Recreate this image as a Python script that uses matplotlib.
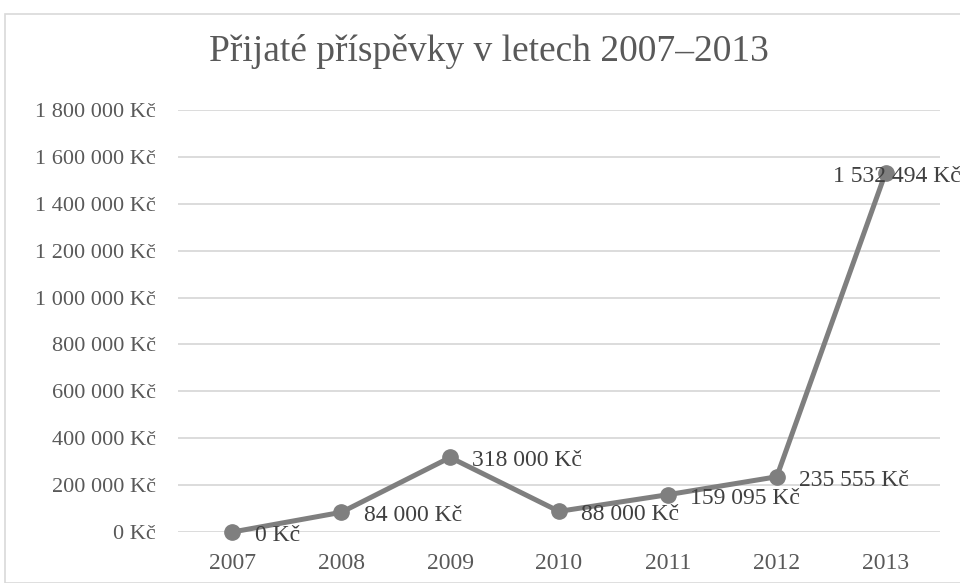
import matplotlib.pyplot as plt
from matplotlib.patches import Rectangle

# data
years = ['2007', '2008', '2009', '2010', '2011', '2012', '2013']
contributions = [0, 84000, 318000, 88000, 159095, 235555, 1532494]
y_ticks = [0, 200000, 400000, 600000, 800000, 1000000, 1200000, 1400000, 1600000, 1800000]
title = 'Přijaté příspěvky v letech 2007–2013'


def kc(v):
    # Czech money format: "1 532 494 Kč"
    return '{:,}'.format(int(v)).replace(',', ' ') + ' Kč'


plt.rcParams['font.family'] = ['Liberation Serif', 'DejaVu Serif']

fig = plt.figure(figsize=(9.6, 5.83), dpi=100)
ax = fig.add_axes([178 / 960, 51 / 583, 762 / 960, 422 / 583])

# outer chart border
fig.patches.append(Rectangle((5 / 960, 0), 1.0, 569 / 583, transform=fig.transFigure,
                             fill=False, edgecolor='#d9d9d9', linewidth=1.2))

x = list(range(len(years)))
ax.plot(x, contributions, color='#7f7f7f', linewidth=3.6, marker='o',
        markersize=11, zorder=3, clip_on=False)

for i, v in enumerate(contributions):
    # last label is pulled back so it stays inside the chart
    dx = -38 if i == len(contributions) - 1 else 16
    ax.annotate(kc(v), (i, v), xytext=(dx, -2.5), textcoords='offset points',
                ha='left', va='center', fontsize=17, color='#404040', zorder=4,
                annotation_clip=False)

ax.set_xlim(-0.5, len(years) - 0.5)
ax.set_ylim(0, 1800000)
ax.set_yticks(y_ticks)
ax.set_yticklabels([kc(t) for t in y_ticks])
ax.set_xticks(x)
ax.set_xticklabels(years)
ax.grid(axis='y', color='#d9d9d9', linewidth=1.3)
ax.set_axisbelow(True)
for s in ax.spines.values():
    s.set_visible(False)
ax.tick_params(axis='y', length=0, pad=16, labelsize=16, labelcolor='#595959')
ax.tick_params(axis='x', length=0, pad=15, labelsize=17, labelcolor='#595959')

fig.text(0.509, 0.911, title, ha='center', va='center', fontsize=27, color='#595959')

fig.savefig('out.png', dpi=100)
